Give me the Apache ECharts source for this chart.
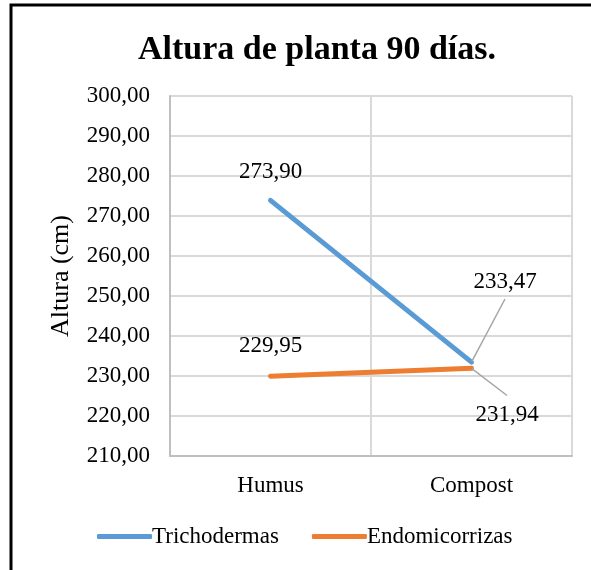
<!DOCTYPE html>
<html>
<head>
<meta charset="utf-8">
<script src="https://cdn.jsdelivr.net/npm/echarts@6/dist/echarts.min.js"></script>
<style>
  html, body { margin: 0; padding: 0; background: #fff; }
  #main { width: 591px; height: 570px; }
</style>
</head>
<body>
<div id="main"></div>
<script>
var categories = ['Humus', 'Compost'];
var trichodermas = [273.90, 233.47];
var endomicorrizas = [229.95, 231.94];
var seriesNames = ['Trichodermas', 'Endomicorrizas'];

var myChart = echarts.init(document.getElementById('main'));
var font = 'Liberation Serif';
// coma decimal como en Excel
var fmt = function (v) { return Number(v).toFixed(2).replace('.', ','); };

// solo las etiquetas de Compost llevan línea guía
var withGuide = function (arr, lh) {
    return arr.map(function (v, i) {
        var item = { value: v, labelLine: { show: i === 1 } };
        if (i === 1) item.label = { lineHeight: lh };
        return item;
    });
};

var option = {
    backgroundColor: '#FFFFFF',
    animation: false,
    title: {
        text: 'Altura de planta 90 días.',
        left: 133,
        top: 28,
        textStyle: { fontFamily: font, fontSize: 34, fontWeight: 'bold', color: '#000' }
    },
    graphic: [{
        type: 'rect',
        shape: { x: 11, y: 5, width: 700, height: 700 },
        style: { fill: 'none', stroke: '#000', lineWidth: 3 }
    }],
    legend: {
        left: 92,
        top: 520,
        itemWidth: 55,
        itemHeight: 5,
        itemGap: 33,
        icon: 'roundRect',
        data: seriesNames,
        textStyle: { fontFamily: font, fontSize: 23, color: '#000', padding: [0, 0, 0, -5] }
    },
    grid: { left: 170, right: 19, top: 96, bottom: 114 },
    xAxis: {
        type: 'category',
        data: categories,
        boundaryGap: true,
        axisLine: { lineStyle: { color: '#bfbfbf', width: 2 } },
        axisTick: { show: false },
        splitLine: { show: true, lineStyle: { color: '#d9d9d9', width: 2 } },
        axisLabel: { margin: 18, fontFamily: font, fontSize: 23, color: '#000' }
    },
    yAxis: {
        type: 'value',
        min: 210,
        max: 300,
        interval: 10,
        name: 'Altura (cm)',
        nameLocation: 'middle',
        nameGap: 96,
        nameTextStyle: { fontFamily: font, fontSize: 26, color: '#000' },
        axisLine: { show: true, lineStyle: { color: '#bfbfbf', width: 2 } },
        axisTick: { show: false },
        splitLine: { lineStyle: { color: '#d9d9d9', width: 2 } },
        axisLabel: { margin: 20, fontFamily: font, fontSize: 23, color: '#000', formatter: fmt }
    },
    series: [
        {
            name: seriesNames[0],
            type: 'line',
            data: withGuide(trichodermas, 34),
            symbol: 'circle',
            symbolSize: 1,
            color: '#5B9BD5',
            lineStyle: { width: 5, color: '#5B9BD5', cap: 'round' },
            label: {
                show: true, position: 'top', distance: 16,
                fontFamily: font, fontSize: 23, color: '#000',
                formatter: function (p) { return fmt(p.value); }
            },
            labelLine: { length2: 0, lineStyle: { color: '#a6a6a6', width: 1.5 } },
            labelLayout: function (p) {
                if (p.dataIndex === 1) return { x: 505, y: 282, align: 'center', verticalAlign: 'middle' };
            }
        },
        {
            name: seriesNames[1],
            type: 'line',
            data: withGuide(endomicorrizas, 39),
            symbol: 'circle',
            symbolSize: 1,
            color: '#ED7D31',
            lineStyle: { width: 5, color: '#ED7D31', cap: 'round' },
            label: {
                show: true, position: 'top', distance: 18,
                fontFamily: font, fontSize: 23, color: '#000',
                formatter: function (p) { return fmt(p.value); }
            },
            labelLine: { length2: 0, lineStyle: { color: '#a6a6a6', width: 1.5 } },
            labelLayout: function (p) {
                if (p.dataIndex === 1) return { x: 507, y: 415, align: 'center', verticalAlign: 'middle' };
            }
        }
    ]
};
myChart.setOption(option);
</script>
</body>
</html>
